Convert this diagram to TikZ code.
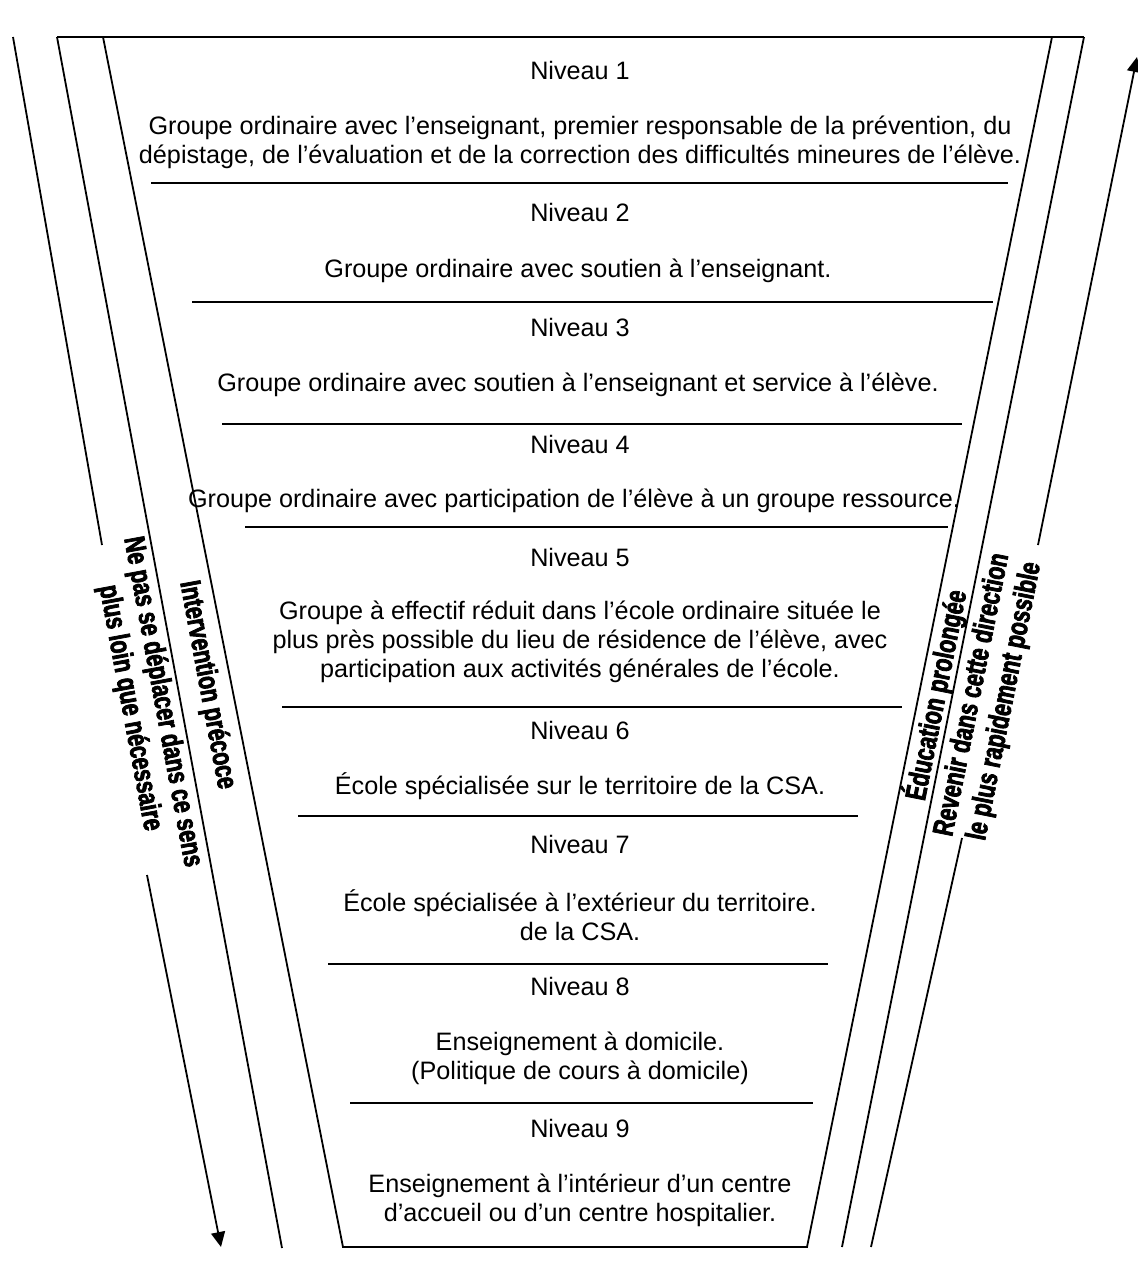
\documentclass[tikz,border=0pt]{standalone}
\usepackage{fontspec}
\setmainfont{Liberation Sans}
\newfontfamily\narrowfont{Liberation Sans Bold}[FakeStretch=0.74, FakeBold=2.5]
\usetikzlibrary{arrows.meta}

\begin{document}
\begin{tikzpicture}[x=0.5pt, y=-0.5pt, line width=0.9pt,
  >={Triangle[length=7.5pt,width=7pt]},
  level/.style={inner sep=0pt, font=\fontsize{12.6}{14.5}\selectfont},
  body/.style={level, align=center},
  side/.style={inner sep=0pt, align=center, font=\narrowfont\fontsize{14.5}{16.5}\selectfont}]
\useasboundingbox (0,0) rectangle (1138,1264);

% funnel and side lines
\coordinate (l1) at (13,37);
\coordinate (l1a) at (102,545);
\coordinate (l1b) at (147,875);
\coordinate (l1c) at (221,1247);
\coordinate (l2) at (57,37);
\coordinate (l2b) at (282,1248);
\coordinate (l3) at (103,37);
\coordinate (bl) at (343,1247);
\coordinate (br) at (807,1247);
\coordinate (r3) at (1052,37);
\coordinate (r2) at (1084,37);
\coordinate (r2b) at (842,1247);
\coordinate (r1) at (1137,57);
\coordinate (r1a) at (1038,545);
\coordinate (r1b) at (962,838);
\coordinate (r1c) at (871,1247);
\draw (l2) -- (r2);
\draw (l3) -- (bl) -- (br) -- (r3);
\draw (l2) -- (l2b);
\draw (r2) -- (r2b);
\draw (l1) -- (l1a);
\draw[->] (l1b) -- (l1c);
\draw (r1c) -- (r1b);
\draw[->] (r1a) -- (r1);

% levels
\node[level] (n1) at (580,70) {Niveau 1};
\node[body] (t1) at (580,142) {Groupe ordinaire avec l’enseignant, premier responsable de la prévention, du\\dépistage, de l’évaluation et de la correction des difficultés mineures de l’élève.};
\draw (151,183) -- (1008,183);
\node[level] (n2) at (580,212) {Niveau 2};
\node[body] (t2) at (578,271) {Groupe ordinaire avec soutien à l’enseignant.};
\draw (192,302) -- (993,302);
\node[level] (n3) at (580,327) {Niveau 3};
\node[body] (t3) at (578,385) {Groupe ordinaire avec soutien à l’enseignant et service à l’élève.};
\draw (222,424) -- (962,424);
\node[level] (n4) at (580,444) {Niveau 4};
\node[body] (t4) at (574,501) {Groupe ordinaire avec participation de l’élève à un groupe ressource.};
\draw (245,527) -- (948,527);
\node[level] (n5) at (580,557) {Niveau 5};
\node[body] (t5) at (580,642) {Groupe à effectif réduit dans l’école ordinaire située le\\plus près possible du lieu de résidence de l’élève, avec\\participation aux activités générales de l’école.};
\draw (282,707) -- (902,707);
\node[level] (n6) at (580,730) {Niveau 6};
\node[body] (t6) at (580,786) {École spécialisée sur le territoire de la CSA.};
\draw (298,816) -- (858,816);
\node[level] (n7) at (580,844) {Niveau 7};
\node[body] (t7) at (580,915) {École spécialisée à l’extérieur du territoire.\\de la CSA.};
\draw (328,964) -- (828,964);
\node[level] (n8) at (580,986) {Niveau 8};
\node[body] (t8) at (580,1058) {Enseignement à domicile.\\(Politique de cours à domicile)};
\draw (350,1103) -- (813,1103);
\node[level] (n9) at (580,1128) {Niveau 9};
\node[body] (t9) at (580,1200) {Enseignement à l’intérieur d’un centre\\d’accueil ou d’un centre hospitalier.};

% side labels
\node[side, rotate=-79.5] (early) at (207,685) {Intervention précoce};
\node[side, rotate=-79.5] (down) at (146,705) {Ne pas se déplacer dans ce sens\\plus loin que nécessaire};
\node[side, rotate=78.7] (long) at (936,695) {Éducation prolongée};
\node[side, rotate=78.7] (up) at (989,698) {Revenir dans cette direction\\le plus rapidement possible};
\end{tikzpicture}
\end{document}
